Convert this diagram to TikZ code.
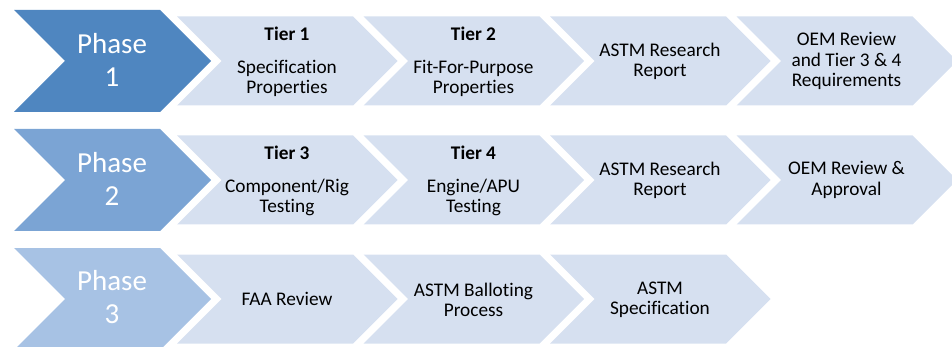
\documentclass[tikz,border=0pt]{standalone}
\usepackage{fontspec}
\setmainfont{Carlito}[Ligatures={NoCommon}]
\definecolor{ph1}{HTML}{4F86C0}
\definecolor{ph2}{HTML}{7BA4D4}
\definecolor{ph3}{HTML}{A7C2E4}
\definecolor{lt}{HTML}{D6E0F0}
\tikzset{
  phasefill/.style={fill=#1, draw=none},
  ltchev/.style={fill=lt, draw=none},
  phasetext/.style={text=white, align=center, inner sep=0pt, font=\fontsize{29}{33}\selectfont},
  tiertext/.style={text=black, align=center, inner sep=0pt, font=\fontsize{19.3}{20.25}\selectfont}
}
\newcommand{\darkchev}[2]{% #1 center y, #2 colour
  \path[phasefill=#2] (14,#1-51) -- (160,#1-51) -- (211,#1) -- (160,#1+51) -- (14,#1+51) -- (65,#1) -- cycle;}
\newcommand{\lightchev}[2]{% #1 left x, #2 center y
  \path[ltchev] (#1,#2-44.5) -- (#1+176,#2-44.5) -- (#1+220.5,#2) -- (#1+176,#2+44.5) -- (#1,#2+44.5) -- (#1+44.5,#2) -- cycle;}
\begin{document}
\begin{tikzpicture}[x=1pt,y=-1pt]
\useasboundingbox (0,0) rectangle (952,347);
\clip (0,0) rectangle (952,347);
% row 1
\darkchev{61}{ph1}
\lightchev{177}{61}\lightchev{363.5}{61}\lightchev{550}{61}\lightchev{736.5}{61}
% row 2
\darkchev{180}{ph2}
\lightchev{177}{180}\lightchev{363.5}{180}\lightchev{550}{180}\lightchev{736.5}{180}
% row 3
\darkchev{299}{ph3}
\lightchev{177}{299}\lightchev{363.5}{299}\lightchev{550}{299}
% texts
\node[phasetext] (p1) at (112,59.5) {Phase\\1};
\node[phasetext] (p2) at (112,178.5) {Phase\\2};
\node[phasetext] (p3) at (112,297.5) {Phase\\3};
\node[tiertext] (t1) at (287,62) {\textbf{Tier 1}\\[12pt]Specification\\Properties};
\node[tiertext] (t2) at (473.5,62) {\textbf{Tier 2}\\[12pt]Fit-For-Purpose\\Properties};
\node[tiertext] (r1) at (660,61.5) {ASTM Research\\Report};
\node[tiertext] (o1) at (846.5,61) {OEM Review\\and Tier 3 \& 4\\Requirements};
\node[tiertext] (t3) at (287,181) {\textbf{Tier 3}\\[12pt]Component/Rig\\Testing};
\node[tiertext] (t4) at (473.5,181) {\textbf{Tier 4}\\[12pt]Engine/APU\\Testing};
\node[tiertext] (r2) at (660,180.5) {ASTM Research\\Report};
\node[tiertext] (o2) at (846.5,180) {OEM Review \&\\Approval};
\node[tiertext] (f3) at (287,299) {FAA Review};
\node[tiertext] (b3) at (473.5,299.5) {ASTM Balloting\\Process};
\node[tiertext] (s3) at (660,300) {ASTM\\Specification};
\end{tikzpicture}
\end{document}
